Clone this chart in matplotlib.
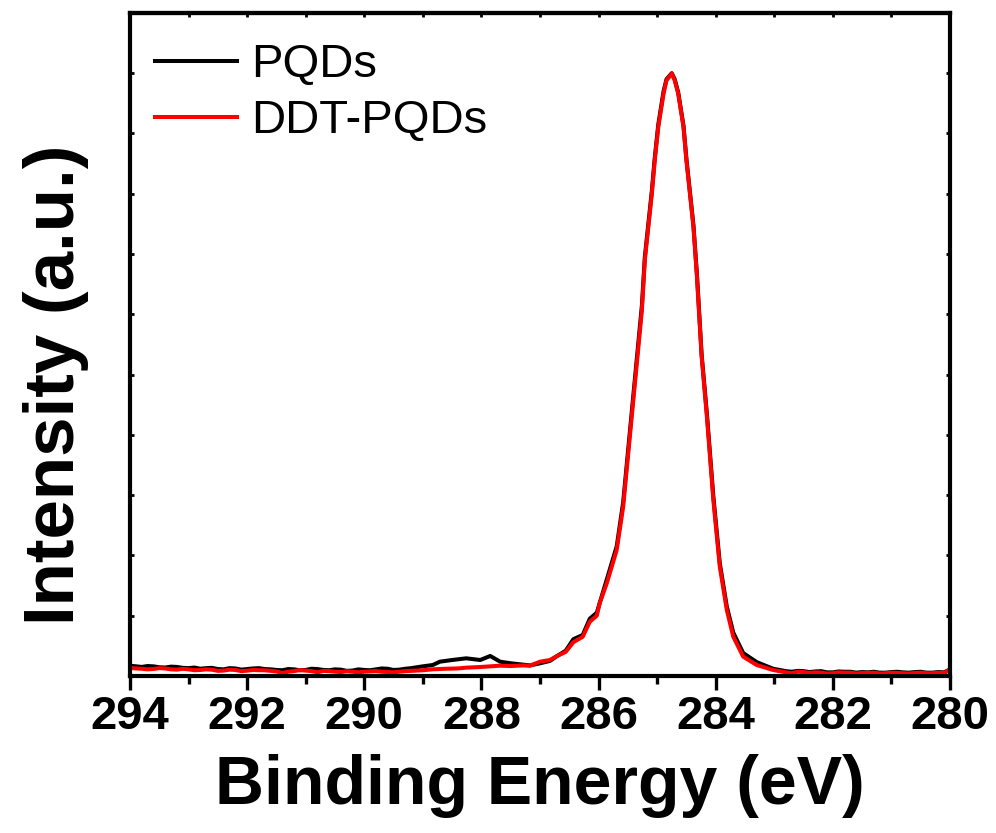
import numpy as np
import matplotlib.pyplot as plt
from matplotlib.ticker import MultipleLocator

plt.rcParams['font.family'] = ['Liberation Sans', 'DejaVu Sans']

# binding energy (eV) and intensity (a.u.)
pqd_x = [294.0, 293.9, 293.8, 293.7, 293.6, 293.5, 293.4, 293.3, 293.2, 293.1,
         293.0, 292.9, 292.8, 292.7, 292.6, 292.5, 292.4, 292.3, 292.2, 292.1,
         292.0, 291.9, 291.8, 291.7, 291.6, 291.5, 291.4, 291.3, 291.2, 291.1,
         291.0, 290.9, 290.8, 290.7, 290.6, 290.5, 290.4, 290.3, 290.2, 290.1,
         290.0, 289.9, 289.8, 289.7, 289.6, 289.5, 289.4, 289.3, 289.2,
         289.00, 288.83, 288.71, 288.50, 288.26, 288.10, 288.02, 287.85, 287.68, 287.50,
         287.30, 287.17, 287.00, 286.83, 286.71, 286.56, 286.43, 286.27, 286.15, 286.03,
         285.86, 285.69, 285.58, 285.46, 285.35, 285.26, 285.21, 285.15, 285.09, 285.04,
         284.98, 284.89, 284.84, 284.75, 284.70, 284.64, 284.55, 284.50, 284.44, 284.38,
         284.32, 284.27, 284.24, 284.15, 284.04, 283.93, 283.81, 283.70, 283.53, 283.30,
         283.02, 282.8,
         282.7, 282.6, 282.5, 282.4, 282.3, 282.2, 282.1, 282.0, 281.9, 281.8,
         281.7, 281.6, 281.5, 281.4, 281.3, 281.2, 281.1, 281.0, 280.9, 280.8,
         280.7, 280.6, 280.5, 280.4, 280.3, 280.2, 280.1, 280.03]
pqd_y = [171, 160, 150, 165, 160, 145, 140, 155, 150, 135,
         130, 140, 120, 130, 135, 115, 110, 130, 125, 105,
         115, 125, 130, 115, 110, 100, 95, 115, 110, 95,
         100, 120, 115, 100, 95, 110, 105, 85, 90, 110,
         100, 95, 110, 125, 120, 100, 105, 120, 130,
         160, 182, 237, 265, 293, 275, 265, 332, 237, 211,
         190, 175, 210, 250, 330, 420, 610, 680, 950, 1050,
         1600, 2150, 2880, 4100, 5200, 6150, 6950, 7500, 8050, 8600,
         9150, 9700, 9900, 10000, 9900, 9680, 9130, 8580, 8030, 7480,
         6660, 5830, 5330, 4350, 2980, 1870, 1150, 720, 380, 230,
         120, 80,
         70, 85, 80, 65, 75, 80, 60, 60, 75, 70,
         70, 55, 65, 60, 70, 55, 55, 65, 70, 60,
         55, 65, 70, 55, 55, 65, 60, 95]

ddt_x = [294.0, 293.9, 293.8, 293.7, 293.6, 293.5, 293.4, 293.3, 293.2, 293.1,
         293.0, 292.9, 292.8, 292.7, 292.6, 292.5, 292.4, 292.3, 292.2, 292.1,
         292.0, 291.9, 291.8, 291.7, 291.6, 291.5, 291.4, 291.3, 291.2, 291.1,
         291.0, 290.9, 290.8, 290.7, 290.6, 290.5, 290.4, 290.3, 290.2, 290.1,
         290.0, 289.9, 289.8, 289.7, 289.6, 289.5, 289.4, 289.3, 289.2,
         289.00, 288.83, 288.60, 288.40, 288.26, 288.00, 287.85, 287.68, 287.50, 287.30,
         287.17, 287.00, 286.83, 286.71, 286.56, 286.43, 286.27, 286.15, 286.03, 285.98,
         285.86, 285.69, 285.58, 285.46, 285.35, 285.26, 285.21, 285.15, 285.09, 285.04,
         284.98, 284.89, 284.84, 284.75, 284.70, 284.64, 284.55, 284.50, 284.44, 284.38,
         284.32, 284.27, 284.24, 284.15, 284.04, 283.93, 283.81, 283.70, 283.53, 283.30,
         283.02, 282.8,
         282.7, 282.6, 282.5, 282.4, 282.3, 282.2, 282.1, 282.0, 281.9, 281.8,
         281.7, 281.6, 281.5, 281.4, 281.3, 281.2, 281.1, 281.0, 280.9, 280.8,
         280.7, 280.6, 280.5, 280.4, 280.3, 280.2, 280.1, 280.03]
ddt_y = [133, 125, 120, 110, 116, 130, 125, 110, 105, 120,
         110, 95, 99, 110, 104, 85, 90, 105, 100, 80,
         88, 100, 95, 95, 85, 75, 50, 70, 80, 99,
         90, 80, 60, 85, 80, 71, 65, 78, 70, 60,
         71, 75, 80, 70, 66, 60, 71, 80, 85,
         95, 111, 120, 125, 138, 150, 160, 171, 165, 175,
         171, 237, 265, 330, 400, 560, 650, 900, 1000, 1210,
         1537, 2089, 2807, 4024, 5128, 6068, 6897, 7449, 8003, 8555,
         9107, 9661, 9880, 9993, 9880, 9661, 9107, 8555, 8003, 7449,
         6620, 5791, 5300, 4299, 2918, 1812, 1094, 652, 320, 182,
         99, 60,
         45, 71, 65, 50, 60, 55, 40, 45, 60, 55,
         55, 40, 50, 50, 55, 40, 45, 55, 50, 45,
         40, 50, 55, 45, 45, 55, 50, 88]

fig = plt.figure(figsize=(9.96, 8.33), dpi=100)
ax = fig.add_axes([0.1305, 0.1885, 0.8233, 0.7953])

ax.plot(pqd_x, pqd_y, color='black', lw=2.9, label='PQDs')
ax.plot(ddt_x, ddt_y, color='red', lw=2.9, label='DDT-PQDs')

ax.set_xlim(294, 280)
ax.set_ylim(0, 10990)

for s in ax.spines.values():
    s.set_linewidth(3)

# bottom ticks: out, major every 2, minor every 1
ax.xaxis.set_major_locator(MultipleLocator(2))
ax.xaxis.set_minor_locator(MultipleLocator(1))
ax.tick_params(axis='x', which='major', direction='out', length=10, width=2.4,
               labelsize=34, pad=3.5)
ax.tick_params(axis='x', which='minor', direction='out', length=5.5, width=2.4)
for lab in ax.get_xticklabels():
    lab.set_fontweight('bold')

# tiny inward ticks on left/right, no labels
ax.yaxis.set_major_locator(MultipleLocator(1000))
ax.tick_params(axis='y', direction='in', length=3, width=2, left=True, right=True,
               labelleft=False)

top = ax.secondary_xaxis('top')
top.xaxis.set_major_locator(MultipleLocator(1))
top.tick_params(direction='in', length=3, width=2, labeltop=False)
top.spines['top'].set_linewidth(3)

ax.set_xlabel('Binding Energy (eV)', fontsize=49, fontweight='bold', labelpad=11)
ax.set_ylabel('Intensity (a.u.)', fontsize=51, fontweight='bold')
ax.yaxis.set_label_coords(-0.05, 0.439)

ax.legend(loc='upper left', bbox_to_anchor=(0.03, 0.955), frameon=False,
          handlelength=1.75, handletextpad=0.3, labelspacing=0.25,
          borderpad=0, borderaxespad=0,
          prop={'family': ['Liberation Sans', 'DejaVu Sans'], 'size': 34})

fig.savefig('out.png', dpi=100)
